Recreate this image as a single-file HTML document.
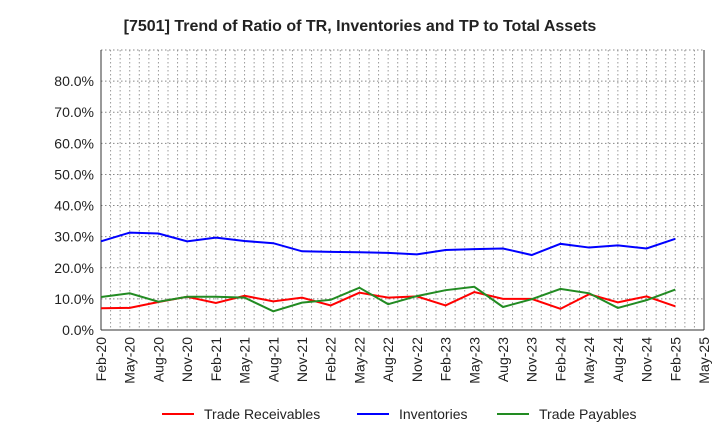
<!DOCTYPE html>
<html><head><meta charset="utf-8"><style>
body{margin:0;background:#fff;font-family:"Liberation Sans",sans-serif}
svg text{font-family:"Liberation Sans",sans-serif}
</style></head><body>
<svg id="c" width="720" height="440"></svg>
<script>
const categories=["Feb-20","May-20","Aug-20","Nov-20","Feb-21","May-21","Aug-21","Nov-21","Feb-22","May-22","Aug-22","Nov-22","Feb-23","May-23","Aug-23","Nov-23","Feb-24","May-24","Aug-24","Nov-24","Feb-25","May-25"];
const yTicks=[0,10,20,30,40,50,60,70,80];
const receivables=[7.0,7.1,9.0,10.7,8.7,11.0,9.2,10.4,7.9,12.0,10.4,10.8,7.9,12.2,10.0,10.0,6.8,11.5,8.9,10.8,7.6];
const inventories=[28.5,31.3,31.0,28.5,29.7,28.6,27.9,25.3,25.1,25.0,24.8,24.3,25.7,26.0,26.2,24.1,27.7,26.5,27.2,26.2,29.3];
const payables=[10.6,11.8,9.1,10.7,10.7,10.4,6.0,8.8,9.7,13.6,8.3,10.9,12.8,13.9,7.4,9.9,13.2,11.8,7.1,9.6,13.0];
const NS="http://www.w3.org/2000/svg",svg=document.getElementById('c');
const L=101,R=704,T=50,B=330;
const x=i=>L+i*(R-L)/(categories.length-1);
const y=v=>B-v*(B-T)/90;
function el(t,a,p){const e=document.createElementNS(NS,t);for(const k in a)e.setAttribute(k,a[k]);(p||svg).appendChild(e);return e;}
const title=el('text',{x:360,y:31,'text-anchor':'middle','font-size':16,'font-weight':'bold',fill:'#222'});
title.textContent="[7501]  Trend of Ratio of TR, Inventories and TP to Total Assets";


const g=el('g',{});


for(let m=0;m<=63;m++){const xx=L+m*(R-L)/63;el('line',{x1:xx,x2:xx,y1:T,y2:B,stroke:'#999','stroke-dasharray':'1.5,2.5','stroke-width':1},g);}
for(const v of yTicks.concat([90])){el('line',{x1:L,x2:R,y1:y(v),y2:y(v),stroke:'#888','stroke-dasharray':'1.5,2.5'},g);}
el('line',{x1:L,x2:L,y1:T,y2:B,stroke:'#333'});el('line',{x1:L,x2:R,y1:B,y2:B,stroke:'#333'});el('line',{x1:R,x2:R,y1:T,y2:B,stroke:'#333'});
yTicks.forEach(v=>{const t=el('text',{x:94,y:y(v)+5,'text-anchor':'end','font-size':14,fill:'#222'});t.textContent=v.toFixed(1)+'%';

});
categories.forEach((c,i)=>{const t=el('text',{transform:`translate(${x(i)+5},337) rotate(-90)`,'text-anchor':'end','font-size':14,fill:'#222'});t.textContent=c;

});
function line(d,col,name){const p=el('polyline',{points:d.map((v,i)=>x(i)+','+y(v)).join(' '),fill:'none',stroke:col,'stroke-width':2});

}
line(receivables,'#ff0000','trade-receivables-line');
line(inventories,'#0000ff','inventories-line');
line(payables,'#228b22','trade-payables-line');
[["Trade Receivables",'#ff0000',162],["Inventories",'#0000ff',357],["Trade Payables",'#228b22',497]].forEach(([n,c,lx])=>{
const gg=el('g',{});


el('line',{x1:lx,x2:lx+32,y1:414,y2:414,stroke:c,'stroke-width':2},gg);
const t=el('text',{x:lx+42,y:419,'font-size':14,fill:'#222'},gg);t.textContent=n;});
</script>
</body></html>
